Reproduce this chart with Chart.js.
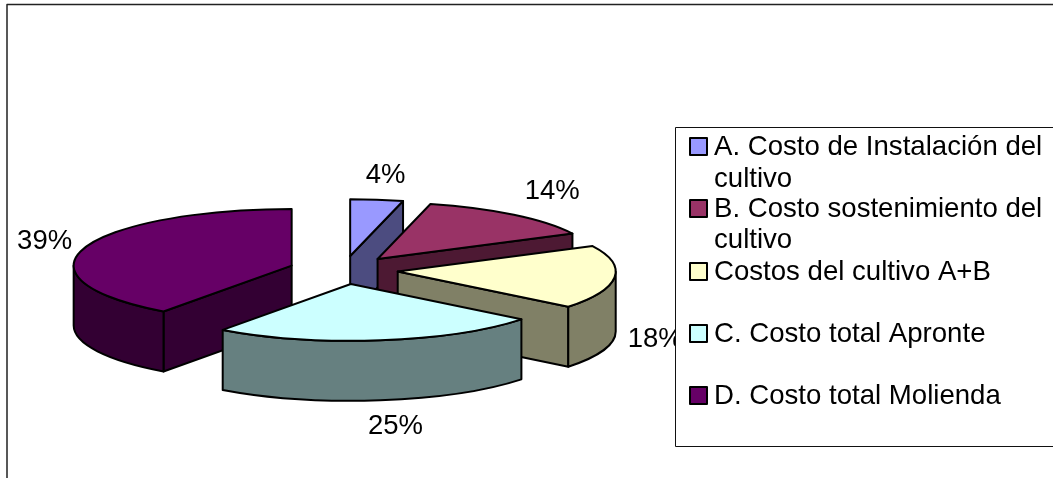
<!DOCTYPE html>
<html><head><meta charset="utf-8">
<style>html,body{margin:0;padding:0;background:#fff;overflow:hidden}canvas{display:block}</style>
<script src="https://cdn.jsdelivr.net/npm/chart.js@4"></script>
</head><body><canvas id="c" width="1053" height="478"></canvas>
<script>
const categories = ['A. Costo de Instalación del cultivo','B. Costo sostenimiento del cultivo','Costos del cultivo A+B','C. Costo total Apronte','D. Costo total Molienda'];
const legendLines = [['A. Costo de Instalación del','cultivo'],['B. Costo sostenimiento del','cultivo'],['Costos del cultivo A+B'],['C. Costo total Apronte'],['D. Costo total Molienda']];
const shares = [3.9, 13.7, 18.1, 24.3, 40.0];
const percentLabels = ['4%','14%','18%','25%','39%'];
const topColors = ['#9999FF','#993366','#FFFFCC','#CCFFFF','#660066'];
const wallColors = ['#4C4C80','#4D1933','#808066','#668080','#330033'];

const FONT = '"Liberation Sans", Arial, sans-serif';
const view = {k:0.26, cy:270, depth:60, explode:54.5, labelRx:265, labelRy:85,
  labelNudge:[[3,4],[9,-1],[-6,-1],[9,-2],[5,2]]};
const legendBox = {x:675.5, y:127.5, w:400, h:319, swatch:17, swatchX:690, textX:714,
  lineY:[[155,187],[217,248],[280],[342],[404]]};

function sy(chart,y){const mid=(chart.chartArea.top+chart.chartArea.bottom)/2;return view.cy+(y-mid)*view.k;}
function arcsOf(chart){return chart.getDatasetMeta(0).data;}

const pie3d = {
  id:'pie3d',
  afterDatasetsUpdate(chart){
    arcsOf(chart).forEach(a=>{
      const m=(a.startAngle+a.endAngle)/2;
      a.x+=Math.cos(m)*view.explode; a.y+=Math.sin(m)*view.explode;
    });
  },
  beforeDatasetsDraw(chart){
    const ctx=chart.ctx, d=view.depth;
    ctx.save();
    ctx.lineWidth=2; ctx.lineJoin='round'; ctx.strokeStyle='#000';
    const arcs=arcsOf(chart).map((a,i)=>({a,i})).sort((p,q)=>p.a.y-q.a.y);
    arcs.forEach(({a,i})=>{
      const ax=a.x, ay=sy(chart,a.y), r=a.outerRadius, ry=r*view.k;
      ctx.fillStyle=wallColors[i];
      const face=t=>{
        const ex=ax+Math.cos(t)*r, ey=ay+Math.sin(t)*ry;
        ctx.beginPath();ctx.moveTo(ax,ay);ctx.lineTo(ex,ey);ctx.lineTo(ex,ey+d);ctx.lineTo(ax,ay+d);ctx.closePath();ctx.fill();ctx.stroke();
      };
      if(Math.cos(a.startAngle)<-1e-6) face(a.startAngle);
      if(Math.cos(a.endAngle)>1e-6) face(a.endAngle);
      const s=Math.max(a.startAngle,0), e=Math.min(a.endAngle,Math.PI);
      if(e>s){
        ctx.beginPath();
        ctx.ellipse(ax,ay,r,ry,0,s,e);
        ctx.ellipse(ax,ay+d,r,ry,0,e,s,true);
        ctx.closePath();ctx.fill();ctx.stroke();
      }
    });
    ctx.restore();
    const mid=(chart.chartArea.top+chart.chartArea.bottom)/2;
    ctx.save();
    ctx.translate(0,view.cy);ctx.scale(1,view.k);ctx.translate(0,-mid);
  },
  afterDatasetsDraw(chart){
    const ctx=chart.ctx;
    ctx.restore();
    ctx.save();
    ctx.lineWidth=2;ctx.lineJoin='round';ctx.strokeStyle='#000';
    arcsOf(chart).forEach(a=>{
      const ax=a.x, ay=sy(chart,a.y), r=a.outerRadius;
      ctx.beginPath();ctx.moveTo(ax,ay);
      ctx.ellipse(ax,ay,r,r*view.k,0,a.startAngle,a.endAngle);
      ctx.closePath();ctx.stroke();
    });
    // percentage labels
    ctx.fillStyle='#000';ctx.font='27.5px '+FONT;ctx.textAlign='center';ctx.textBaseline='middle';
    arcsOf(chart).forEach((a,i)=>{
      const m=(a.startAngle+a.endAngle)/2, sn=Math.sin(m);
      const x=a.x+Math.cos(m)*view.labelRx+view.labelNudge[i][0];
      const y=sy(chart,a.y)+sn*view.labelRy+(sn>0?view.depth:0)+view.labelNudge[i][1];
      ctx.fillText(percentLabels[i],x,y);
    });
    // legend box
    const L=legendBox;
    ctx.fillStyle='#fff';ctx.fillRect(L.x,L.y,L.w,L.h);
    ctx.lineWidth=1;ctx.strokeStyle='#111';ctx.strokeRect(L.x,L.y,L.w,L.h);
    ctx.textAlign='left';ctx.textBaseline='alphabetic';ctx.font='27.6px '+FONT;
    legendLines.forEach((lines,i)=>{
      const y0=L.lineY[i][0];
      ctx.fillStyle=topColors[i];ctx.lineWidth=2;ctx.strokeStyle='#000';
      ctx.fillRect(L.swatchX,y0-L.swatch,L.swatch,L.swatch);ctx.strokeRect(L.swatchX,y0-L.swatch,L.swatch,L.swatch);
      ctx.fillStyle='#000';
      lines.forEach((t,j)=>ctx.fillText(t,L.textX,L.lineY[i][j]));
    });
    // outer chart frame
    ctx.strokeStyle='#222';ctx.lineWidth=1.5;
    ctx.beginPath();ctx.moveTo(7,478);ctx.lineTo(7,4.5);ctx.lineTo(1053,4.5);ctx.stroke();
    ctx.restore();
  }
};

new Chart(document.getElementById('c'),{
  type:'pie',
  data:{labels:categories,datasets:[{data:shares,backgroundColor:topColors,borderWidth:0,clip:false}]},
  options:{
    responsive:false,animation:false,events:[],radius:218,
    layout:{padding:{right:366}},
    plugins:{legend:{display:false},tooltip:{enabled:false}}
  },
  plugins:[pie3d]
});
</script></body></html>
